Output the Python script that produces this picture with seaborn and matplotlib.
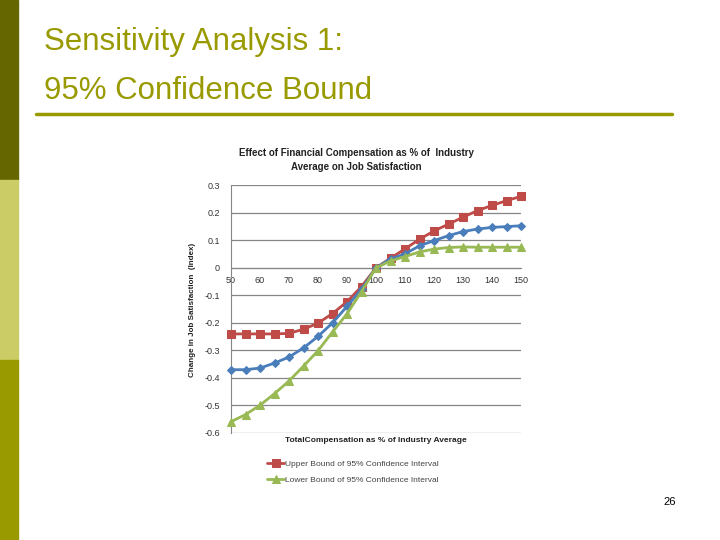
import matplotlib
matplotlib.use("Agg")
import matplotlib.pyplot as plt
import seaborn as sns
import pandas as pd
from matplotlib.patches import Rectangle
from matplotlib.lines import Line2D

sns.set_style("white")
plt.rcParams['font.family'] = ['Liberation Sans', 'DejaVu Sans']

# ---- data ----
compensation = [50, 55, 60, 65, 70, 75, 80, 85, 90, 95, 100,
                105, 110, 115, 120, 125, 130, 135, 140, 145, 150]
upper_bound = [-0.240, -0.240, -0.240, -0.240, -0.238, -0.223, -0.201, -0.166, -0.123, -0.068, 0.0,
               0.035, 0.069, 0.104, 0.134, 0.159, 0.184, 0.208, 0.227, 0.244, 0.260]
expected = [-0.370, -0.370, -0.364, -0.346, -0.324, -0.291, -0.249, -0.200, -0.140, -0.078, 0.0,
            0.032, 0.051, 0.080, 0.099, 0.117, 0.132, 0.141, 0.147, 0.150, 0.153]
lower_bound = [-0.559, -0.533, -0.499, -0.457, -0.411, -0.357, -0.301, -0.233, -0.167, -0.086, 0.0,
               0.025, 0.041, 0.058, 0.068, 0.074, 0.076, 0.075, 0.075, 0.075, 0.075]
x_ticks = [50, 60, 70, 80, 90, 100, 110, 120, 130, 140, 150]
y_ticks = [-0.6, -0.5, -0.4, -0.3, -0.2, -0.1, 0, 0.1, 0.2, 0.3]
y_tick_labels = ["-0.6", "-0.5", "-0.4", "-0.3", "-0.2", "-0.1", "0", "0.1", "0.2", "0.3"]

labels = ["Upper Bound of 95% Confidence Interval",
          "Expected Value",
          "Lower Bound of 95% Confidence Interval"]

df = pd.DataFrame({
    "x": compensation * 3,
    "y": upper_bound + expected + lower_bound,
    "series": [labels[0]] * len(compensation) + [labels[1]] * len(compensation) + [labels[2]] * len(compensation),
})

colors = {labels[0]: "#BE4B48", labels[1]: "#4A7EBB", labels[2]: "#98B954"}
markers = {labels[0]: "s", labels[1]: "D", labels[2]: "^"}
msizes = {labels[0]: 5.5, labels[1]: 4.2, labels[2]: 6.2}

fig = plt.figure(figsize=(7.2, 5.4), dpi=100)
fig.patch.set_facecolor("white")

# ---- slide decoration ----
fig.patches.append(Rectangle((0, 2/3), 18/720, 1/3, transform=fig.transFigure, color="#666600", zorder=0))
fig.patches.append(Rectangle((0, 1/3), 18/720, 1/3, transform=fig.transFigure, color="#CCCC66", zorder=0))
fig.patches.append(Rectangle((0, 0), 18/720, 1/3, transform=fig.transFigure, color="#999900", zorder=0))
fig.lines.append(Line2D([36/720, 672/720], [1 - 114/540, 1 - 114/540], transform=fig.transFigure,
                        color="#999900", linewidth=2.5))
fig.text(44/720, 1 - 50/540, "Sensitivity Analysis 1:", fontsize=22.5, color="#999900",
         ha="left", va="baseline")
fig.text(44/720, 1 - 99/540, "95% Confidence Bound", fontsize=22.5, color="#999900",
         ha="left", va="baseline")
fig.text(676/720, 1 - 502/540, "26", fontsize=8, color="black", ha="right", va="center")

# ---- chart ----
ax = fig.add_axes([231/720, 1 - 433/540, 290/720, (433 - 185.3)/540])
for s in labels:
    sub = df[df["series"] == s]
    sns.lineplot(data=sub, x="x", y="y", ax=ax, color=colors[s], marker=markers[s],
                 markersize=msizes[s], markeredgecolor=colors[s], linewidth=2.0,
                 label=s, legend=False, zorder=3, clip_on=False)

ax.set_xlim(50, 150)
ax.set_ylim(-0.6, 0.3)
ax.set_yticks(y_ticks)
ax.set_yticklabels(y_tick_labels)
ax.set_xticks(x_ticks)
ax.set_xticklabels([str(v) for v in x_ticks])
ax.grid(axis="y", color="#868686", linewidth=0.9)
ax.grid(axis="x", visible=False)
ax.spines["top"].set_visible(False)
ax.spines["right"].set_visible(False)
ax.spines["left"].set_color("#868686")
ax.spines["bottom"].set_position(("data", 0))
ax.spines["bottom"].set_color("#868686")
ax.tick_params(axis="both", length=0, labelsize=6.5, colors="#333333")
ax.tick_params(axis="x", pad=6)
ax.tick_params(axis="y", pad=8)
ax.set_xlabel("")
ax.set_ylabel("")

fig.text(356/720, 1 - 153/540, "Effect of Financial Compensation as % of  Industry",
         fontsize=7, fontweight="bold", color="#222222", ha="center", va="center")
fig.text(356/720, 1 - 167/540, "Average on Job Satisfaction",
         fontsize=7, fontweight="bold", color="#222222", ha="center", va="center")
fig.text(193/720, 1 - 310/540, "Change in Job Satisfaction  (Index)", rotation=90,
         fontsize=5.8, fontweight="bold", color="#222222", ha="center", va="center")
fig.text(376/720, 1 - 441/540, "TotalCompensation as % of Industry Average",
         fontsize=6, fontweight="bold", color="#222222", ha="center", va="center")

handles, hl = ax.get_legend_handles_labels()
keep = [0, 2]
leg = fig.legend([handles[i] for i in keep], [hl[i] for i in keep],
                 loc="upper left", bbox_to_anchor=(264/720, 1 - 457/540),
                 frameon=False, fontsize=6, labelcolor="#444444",
                 handlelength=2.0, handletextpad=0.1, labelspacing=1.0, borderaxespad=0)

fig.savefig("out.png", dpi=100, facecolor="white")
